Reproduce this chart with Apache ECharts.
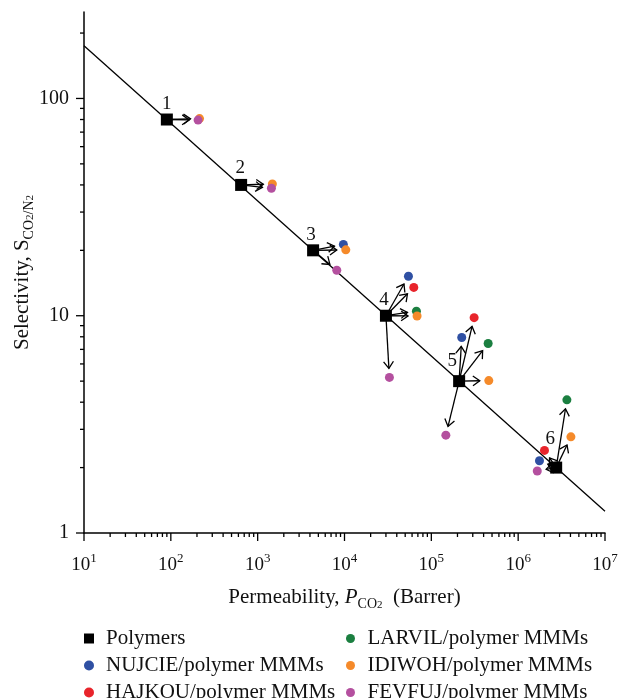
<!DOCTYPE html>
<html>
<head>
<meta charset="utf-8">
<script src="https://cdn.jsdelivr.net/npm/echarts@6/dist/echarts.min.js"></script>
<style>
  html, body { margin: 0; padding: 0; background: #fff; }
  #chart { width: 618px; height: 698px; }
</style>
</head>
<body>
<div id="chart"></div>
<script>
// polymers (black squares), numbered 1..6
const polymerP = [90, 645, 4350, 30000, 209000, 2740000];
const polymerS = [80, 40, 20, 10, 5, 2];
const polymerLabels = ["1", "2", "3", "4", "5", "6"];

// MMM points: [permeability, selectivity, polymer index]
const nujcie = [[9700, 21.3, 2], [54500, 15.2, 3], [224000, 7.94, 4], [1760000, 2.15, 5]];
const hajkou = [[62800, 13.5, 3], [311000, 9.8, 4], [2010000, 2.4, 5]];
const larvil = [[67300, 10.5, 3], [451000, 7.45, 4], [3640000, 4.1, 5]];
const idiwoh = [[214, 80.8, 0], [1476, 40.4, 1], [10350, 20.1, 2], [68500, 9.97, 3], [459000, 5.03, 4], [4050000, 2.77, 5]];
const fevfuj = [[206, 79.5, 0], [1440, 38.6, 1], [8150, 16.2, 2], [32900, 5.2, 3], [147000, 2.82, 4], [1660000, 1.93, 5]];

// upper bound line end points
const boundP = [10, 1e7];
const boundS = [175, 1.26];

const xMin = 10, xMax = 1e7, yMin = 1, yMax = 250;

const FONT = "'Liberation Serif', 'DejaVu Serif', serif";
const mmmSeries = [
  { name: "NUJCIE/polymer MMMs", data: nujcie, color: "#2f50a3" },
  { name: "HAJKOU/polymer MMMs", data: hajkou, color: "#e8242b" },
  { name: "LARVIL/polymer MMMs", data: larvil, color: "#1b7f40" },
  { name: "IDIWOH/polymer MMMs", data: idiwoh, color: "#f58a2a" },
  { name: "FEVFUJ/polymer MMMs", data: fevfuj, color: "#b4509f" },
];

// label offsets for the numbers next to the squares (style)
const labelOffsets = [[0, -16], [-1, -17], [-2, -15], [-2, -16], [-7, -20], [-6, -29]];

// arrows from each polymer to its MMMs
const arrows = [];
mmmSeries.forEach((s) => {
  s.data.forEach(([p, sel, g]) => {
    arrows.push([polymerP[g], polymerS[g], p, sel]);
  });
});

// axis tick values (decades + minors)
const xTicks = [];
for (let e = 1; e <= 7; e++) {
  for (let k = 1; k <= 9; k++) {
    const v = k * Math.pow(10, e);
    if (v <= xMax) xTicks.push([v, yMin]);
  }
}
const yTicks = [];
for (let e = 0; e <= 2; e++) {
  for (let k = 1; k <= 9; k++) {
    const v = k * Math.pow(10, e);
    if (v <= yMax) yTicks.push([xMin, v]);
  }
}
const isDecade = (v) => Math.abs(Math.log10(v) - Math.round(Math.log10(v))) < 1e-9;

const chart = echarts.init(document.getElementById("chart"), null, { renderer: "canvas" });

function arrowItem(params, api) {
  const a = api.coord([api.value(0), api.value(1)]);
  const b = api.coord([api.value(2), api.value(3)]);
  const dx = b[0] - a[0], dy = b[1] - a[1];
  const len = Math.sqrt(dx * dx + dy * dy);
  const ux = dx / len, uy = dy / len;
  const tip = [b[0] - ux * 9, b[1] - uy * 9];
  const h = 8.5, ang = 0.62;
  const c = Math.cos(ang), s = Math.sin(ang);
  const l1 = [tip[0] - h * (ux * c - uy * s), tip[1] - h * (uy * c + ux * s)];
  const l2 = [tip[0] - h * (ux * c + uy * s), tip[1] - h * (uy * c - ux * s)];
  const st = { stroke: "#000", lineWidth: 1.3, fill: null };
  return {
    type: "group",
    children: [
      { type: "line", shape: { x1: a[0], y1: a[1], x2: tip[0], y2: tip[1] }, style: st },
      { type: "polyline", shape: { points: [l1, tip, l2] }, style: st },
    ],
  };
}

function xTickItem(params, api) {
  const v = api.value(0);
  const p = api.coord([v, api.value(1)]);
  const len = isDecade(v) ? 8 : 4;
  return { type: "line", shape: { x1: p[0], y1: p[1], x2: p[0], y2: p[1] + len }, style: { stroke: "#000", lineWidth: 1.3 } };
}

function yTickItem(params, api) {
  const v = api.value(1);
  const p = api.coord([api.value(0), v]);
  const len = isDecade(v) ? 8 : 4;
  return { type: "line", shape: { x1: p[0], y1: p[1], x2: p[0] - len, y2: p[1] }, style: { stroke: "#000", lineWidth: 1.3 } };
}

const legendText = { fontFamily: FONT, fontSize: 21, color: "#111", lineHeight: 20 };
const subRich = {
  i: { fontFamily: FONT, fontSize: 21, lineHeight: 28, fontStyle: "italic", color: "#111" },
  sub: { fontFamily: FONT, fontSize: 14, lineHeight: 17, verticalAlign: "bottom", color: "#111" },
  ss: { fontFamily: FONT, fontSize: 11, lineHeight: 11, verticalAlign: "bottom", color: "#111" },
};

chart.setOption({
  animation: false,
  backgroundColor: "#fff",
  textStyle: { fontFamily: FONT },
  grid: { left: 84, right: 13, top: 12, bottom: 165, outerBoundsMode: "none", containLabel: false },
  legend: [
    {
      orient: "vertical",
      left: 84,
      top: 628,
      height: 90,
      padding: 0,
      itemWidth: 24,
      itemHeight: 10,
      itemGap: 6,
      textStyle: legendText,
      data: [
        { name: "Polymers", icon: "path://M0 0H10V10H0Z" },
        { name: "NUJCIE/polymer MMMs", icon: "circle" },
        { name: "HAJKOU/polymer MMMs", icon: "circle" },
      ],
    },
    {
      orient: "vertical",
      left: 346,
      top: 628,
      height: 90,
      padding: 0,
      itemWidth: 24,
      itemHeight: 9,
      itemGap: 6,
      textStyle: legendText,
      data: [
        { name: "LARVIL/polymer MMMs", icon: "circle" },
        { name: "IDIWOH/polymer MMMs", icon: "circle" },
        { name: "FEVFUJ/polymer MMMs", icon: "circle" },
      ],
    },
  ],
  xAxis: {
    type: "log",
    logBase: 10,
    min: xMin,
    max: xMax,
    splitLine: { show: false },
    axisTick: { show: false },
    axisLine: { onZero: false, lineStyle: { color: "#000", width: 1.5 } },
    axisLabel: {
      margin: 19,
      color: "#111",
      formatter: (v) => (isDecade(v) ? "{a|10}{s|" + Math.round(Math.log10(v)) + "}" : ""),
      rich: {
        a: { fontFamily: FONT, fontSize: 19, lineHeight: 26, color: "#111" },
        s: { fontFamily: FONT, fontSize: 13, lineHeight: 14, verticalAlign: "top", color: "#111" },
      },
    },
    name: "Permeability, {i|P}{sub|CO}{ss|2}  (Barrer)",
    nameLocation: "middle",
    nameGap: 50,
    nameTextStyle: {
      fontFamily: FONT,
      fontSize: 21,
      lineHeight: 28,
      color: "#111",
      rich: subRich,
    },
  },
  yAxis: {
    type: "log",
    logBase: 10,
    min: yMin,
    max: yMax,
    splitLine: { show: false },
    axisTick: { show: false },
    axisLine: { onZero: false, lineStyle: { color: "#000", width: 1.5 } },
    axisLabel: {
      margin: 15,
      fontFamily: FONT,
      fontSize: 20,
      color: "#111",
      showMaxLabel: false,
      formatter: (v) => (isDecade(v) ? String(Math.round(v)) : ""),
    },
    name: "Selectivity, S{sub|CO}{ss|2}{sub|/N}{ss|2}",
    nameLocation: "middle",
    nameMoveOverlap: false,
    nameGap: 48,
    nameTextStyle: {
      fontFamily: FONT,
      fontSize: 21,
      lineHeight: 28,
      color: "#111",
      rich: subRich,
    },
  },
  series: [
    {
      name: "ticksX",
      type: "custom",
      silent: true,
      clip: false,
      renderItem: xTickItem,
      encode: { x: 0, y: 1 },
      data: xTicks,
      z: 1,
    },
    {
      name: "ticksY",
      type: "custom",
      silent: true,
      clip: false,
      renderItem: yTickItem,
      encode: { x: 0, y: 1 },
      data: yTicks,
      z: 1,
    },
    {
      name: "Upper bound",
      type: "line",
      symbol: "none",
      lineStyle: { color: "#000", width: 1.3 },
      data: boundP.map((p, i) => [p, boundS[i]]),
      z: 2,
    },
    {
      name: "arrows",
      type: "custom",
      silent: true,
      renderItem: arrowItem,
      encode: { x: [0, 2], y: [1, 3] },
      data: arrows,
      z: 3,
    },
    ...mmmSeries.map((s, i) => ({
      name: s.name,
      type: "scatter",
      symbol: "circle",
      symbolSize: 9,
      itemStyle: { color: s.color, opacity: 1 },
      data: s.data.map((d) => [d[0], d[1]]),
      z: 4 + i,
    })),
    {
      name: "Polymers",
      type: "scatter",
      symbol: "rect",
      symbolSize: 12,
      itemStyle: { color: "#000", opacity: 1 },
      data: polymerP.map((p, i) => ({
        value: [p, polymerS[i]],
        label: { offset: labelOffsets[i] },
      })),
      label: {
        show: true,
        position: "inside",
        fontFamily: FONT,
        fontSize: 19,
        color: "#111",
        formatter: (p) => polymerLabels[p.dataIndex],
      },
      z: 10,
    },
  ],
});
</script>
</body>
</html>
